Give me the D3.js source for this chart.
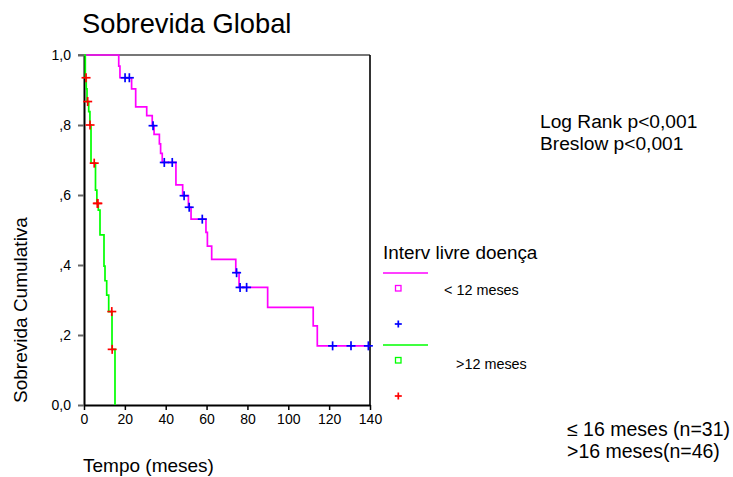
<!DOCTYPE html>
<html>
<head>
<meta charset="utf-8">
<script src="https://cdn.jsdelivr.net/npm/d3@7"></script>
<style>
  html, body { margin: 0; padding: 0; background: #ffffff; }
  svg { display: block; font-family: "Liberation Sans", Arial, sans-serif; }
</style>
</head>
<body>
<svg id="chart" width="733" height="477"></svg>
<script>
// ---- data ----
const xTicks = [0, 20, 40, 60, 80, 100, 120, 140];
const yTicks = [0, 0.2, 0.4, 0.6, 0.8, 1.0];
const yTickLabels = ["0,0", ",2", ",4", ",6", ",8", "1,0"];

// Group "< 12 meses" (magenta): step times and cumulative survival after each step
const magentaTimes = [0, 17.0, 17.6, 23.3, 25.3, 30.7, 33.4, 34.3, 36.9, 37.5, 38.3, 45.0, 48.3, 51.1, 52.4, 59.7, 60.4, 62.5, 74.3, 75.9, 89.9, 112.2, 114.2, 140];
const magentaSurv  = [1, 0.968, 0.935, 0.903, 0.852, 0.827, 0.798, 0.773, 0.746, 0.719, 0.693, 0.629, 0.598, 0.565, 0.531, 0.493, 0.454, 0.416, 0.378, 0.336, 0.279, 0.226, 0.169, 0.169];
const magentaCensored = [20.1, 22.2, 33.8, 39.3, 43.2, 49.0, 51.5, 57.9, 74.7, 76.4, 79.6, 121.7, 130.7, 139.2];

// Group ">12 meses" (green)
const greenTimes = [0, 0.64, 1.1, 1.47, 2.3, 2.9, 3.43, 5.63, 6.3, 7.0, 7.83, 9.79, 10.28, 11.11, 12.09, 13.71, 15.17];
const greenSurv  = [1, 0.935, 0.903, 0.867, 0.838, 0.800, 0.691, 0.614, 0.576, 0.557, 0.486, 0.397, 0.355, 0.314, 0.267, 0.159, 0];
const greenCensored = [1.0, 1.8, 2.95, 5.0, 6.5, 6.8, 13.6, 13.8];

const titleText = "Sobrevida Global";
const xLabel = "Tempo (meses)";
const yLabel = "Sobrevida Cumulativa";
const statLines = ["Log Rank p<0,001", "Breslow p<0,001"];
const legendTitle = "Interv livre doença";
const legendGroups = ["< 12 meses", ">12 meses"];
const noteLines = ["≤ 16 meses (n=31)", ">16 meses(n=46)"];

// ---- drawing ----
const svg = d3.select("#chart");
const x = d3.scaleLinear().domain([0, 140]).range([84, 370]);
const y = d3.scaleLinear().domain([0, 1]).range([405, 55]);

function survAt(times, surv, t) {
  let s = surv[0];
  for (let i = 0; i < times.length; i++) { if (times[i] <= t) s = surv[i]; }
  return s;
}

// frame (top grey line, right black line)
svg.append("line").attr("x1", 78).attr("x2", 370).attr("y1", 55).attr("y2", 55)
  .attr("stroke", "#777").attr("stroke-width", 2);
svg.append("line").attr("x1", 370).attr("x2", 370).attr("y1", 55).attr("y2", 405)
  .attr("stroke", "#000").attr("stroke-width", 1.6);

// axes
const xAxis = d3.axisBottom(x).tickValues(xTicks).tickSize(5).tickSizeOuter(0).tickPadding(4);
const gx = svg.append("g").attr("transform", "translate(0,405)").call(xAxis);
gx.select(".domain").attr("stroke", "#000").attr("stroke-width", 2);
gx.selectAll(".tick line").attr("stroke", "#000").attr("stroke-width", 1.5);
gx.selectAll(".tick text").attr("font-size", 14).attr("font-family", "Liberation Sans, Arial, sans-serif").attr("fill", "#000");

const yAxis = d3.axisLeft(y).tickValues(yTicks).tickFormat((d, i) => yTickLabels[i])
  .tickSize(6).tickSizeOuter(0).tickPadding(7);
const gy = svg.append("g").attr("transform", "translate(84,0)").call(yAxis);
gy.select(".domain").attr("stroke", "#000").attr("stroke-width", 2);
gy.selectAll(".tick line").attr("stroke", "#666").attr("stroke-width", 2);
gy.selectAll(".tick text").attr("font-size", 14).attr("font-family", "Liberation Sans, Arial, sans-serif").attr("fill", "#000");

// survival curves
const line = d3.line().x(d => x(d[0])).y(d => y(d[1])).curve(d3.curveStepAfter);
const magentaPts = magentaTimes.map((t, i) => [t, magentaSurv[i]]);
const greenPts = greenTimes.map((t, i) => [t, greenSurv[i]]);

svg.append("path").datum(magentaPts).attr("d", line)
  .attr("fill", "none").attr("stroke", "#ff00ff").attr("stroke-width", 1.7);
svg.append("path").datum(greenPts).attr("d", line)
  .attr("fill", "none").attr("stroke", "#00ff00").attr("stroke-width", 1.7);

function plus(g, cx, cy, color, r) {
  g.append("line").attr("x1", cx - r).attr("x2", cx + r).attr("y1", cy).attr("y2", cy)
    .attr("stroke", color).attr("stroke-width", 1.7);
  g.append("line").attr("x1", cx).attr("x2", cx).attr("y1", cy - r).attr("y2", cy + r)
    .attr("stroke", color).attr("stroke-width", 1.7);
}
const gc = svg.append("g");
magentaCensored.forEach(t => plus(gc, x(t), y(survAt(magentaTimes, magentaSurv, t)), "#0000ff", 4.5));
greenCensored.forEach(t => plus(gc, x(t), y(survAt(greenTimes, greenSurv, t)), "#ff0000", 4.5));

// title & axis labels
svg.append("text").attr("x", 82).attr("y", 33).attr("font-size", 27.3).attr("fill", "#000").text(titleText);
svg.append("text").attr("x", 83).attr("y", 472).attr("font-size", 19).attr("fill", "#000").text(xLabel);
svg.append("text").attr("transform", "translate(27,310) rotate(-90)").attr("text-anchor", "middle")
  .attr("font-size", 19).attr("fill", "#000").text(yLabel);

// statistics
statLines.forEach((s, i) => {
  svg.append("text").attr("x", 540).attr("y", 128 + i * 22).attr("font-size", 19.2).attr("fill", "#000").text(s);
});

// legend
svg.append("text").attr("x", 383).attr("y", 259).attr("font-size", 18.9).attr("fill", "#000").text(legendTitle);
const legendColors = ["#ff00ff", "#00ff00"];
const censorColors = ["#0000ff", "#ff0000"];
const legendTextX = [444, 456];
legendGroups.forEach((name, i) => {
  const base = 273 + i * 72;
  svg.append("line").attr("x1", 383).attr("x2", 428).attr("y1", base).attr("y2", base)
    .attr("stroke", legendColors[i]).attr("stroke-width", 1.7);
  svg.append("rect").attr("x", 395.5).attr("y", base + 12.5).attr("width", 5.5).attr("height", 5.5)
    .attr("fill", "none").attr("stroke", legendColors[i]).attr("stroke-width", 1.3);
  svg.append("text").attr("x", legendTextX[i]).attr("y", base + 22 + i * 1.5).attr("font-size", 14.4).attr("fill", "#000").text(name);
  plus(svg, 398.3, base + 51, censorColors[i], 3.5);
});

// notes
noteLines.forEach((s, i) => {
  svg.append("text").attr("x", 567).attr("y", 436 + i * 22).attr("font-size", 19.5).attr("fill", "#000").text(s);
});
</script>
</body>
</html>
